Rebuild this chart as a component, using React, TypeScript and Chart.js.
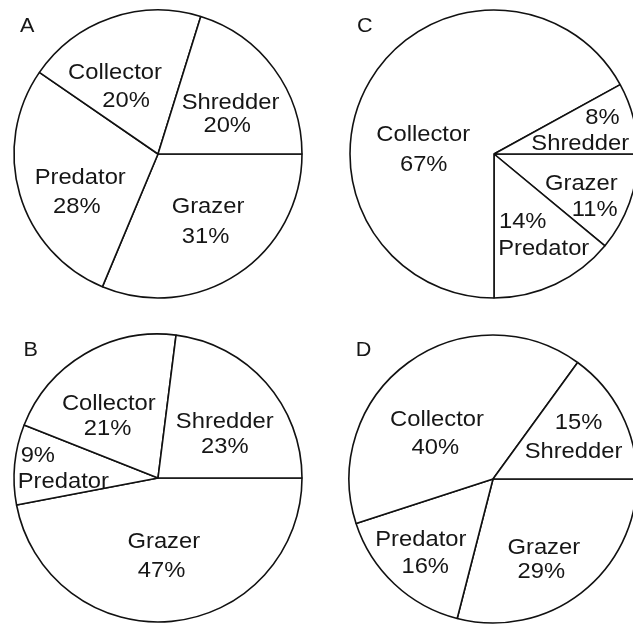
import React, { useEffect, useRef } from "react";
import { Chart, registerables } from "chart.js";

Chart.register(...registerables);

// ---- data ----
const categories = ["Grazer", "Predator", "Collector", "Shredder"];
const panelLetters = ["A", "B", "C", "D"];
const valuesA = [31, 28, 20, 20];
const valuesB = [47, 9, 21, 23];
const valuesC = [11, 14, 67, 8];
const valuesD = [29, 16, 40, 15];

// ---- layout / style (not data) ----
const CANVAS = 300;
const RADIUS = 144;
const FONT = '22px "Liberation Sans", Arial, sans-serif';
const LETTER_FONT = '20px "Liberation Sans", Arial, sans-serif';
const TEXT_SCALE_X = 1.08;
const TEXT_COLOR = "#161616";

// per label: [line1 x, line1 baseline, line2 x, line2 baseline, percentFirst] relative to pie centre
type LabelPos = [number, number, number, number, boolean];
const layoutA: LabelPos[] = [
  [50, 59.3, 47.5, 89.3, false],
  [-77.8, 30, -81.2, 58.7, false],
  [-43, -75, -32, -46.7, false],
  [72.5, -45, 69.2, -21.7, false],
];
const layoutB: LabelPos[] = [
  [5.8, 70.3, 3.5, 99.3, false],
  [-120.2, -16.3, -94.7, 10, true],
  [-49.2, -68, -50.5, -43.3, false],
  [66.7, -50, 66.8, -25, false],
];
const layoutC: LabelPos[] = [
  [87.3, 35.5, 100.7, 62.2, false],
  [28.7, 73.8, 49.7, 100.5, true],
  [-70.8, -12.8, -70.3, 17.2, false],
  [108.5, -30.5, 86.2, -4.5, true],
];
const layoutD: LabelPos[] = [
  [50.8, 75, 48.3, 99.3, false],
  [-72.2, 66.7, -67.8, 94.3, false],
  [-56, -53.3, -57.7, -25, false],
  [85.5, -50, 80.5, -20.7, true],
];

const panels = [
  { letter: panelLetters[0], values: valuesA, layout: layoutA, left: 8, top: 4, lx: 12, ly: 28 },
  { letter: panelLetters[2], values: valuesC, layout: layoutC, left: 344, top: 4, lx: 13, ly: 27.5 },
  { letter: panelLetters[1], values: valuesB, layout: layoutB, left: 8, top: 328, lx: 15.5, ly: 27.7 },
  { letter: panelLetters[3], values: valuesD, layout: layoutD, left: 343, top: 329, lx: 12.8, ly: 27.3 },
];

function drawText(ctx: CanvasRenderingContext2D, text: string, x: number, y: number, font: string, align: CanvasTextAlign) {
  ctx.save();
  ctx.font = font;
  ctx.fillStyle = TEXT_COLOR;
  ctx.textAlign = align;
  ctx.textBaseline = "alphabetic";
  ctx.translate(x, y);
  ctx.scale(TEXT_SCALE_X, 1);
  ctx.fillText(text, 0, 0);
  ctx.restore();
}

function PiePanel(props: { letter: string; values: number[]; layout: LabelPos[]; left: number; top: number; lx: number; ly: number }) {
  const ref = useRef<HTMLCanvasElement | null>(null);
  useEffect(() => {
    if (!ref.current) return;
    const { letter, layout, lx, ly } = props;
    const labelPlugin = {
      id: "sliceLabels",
      afterDatasetsDraw(chart: any) {
        const ctx = chart.ctx as CanvasRenderingContext2D;
        const meta = chart.getDatasetMeta(0);
        meta.data.forEach((arc: any, i: number) => {
          const { x, y } = arc.getProps(["x", "y"], true);
          const name = String(chart.data.labels[i]);
          const pct = `${chart.data.datasets[0].data[i]}%`;
          const [x1, b1, x2, b2, pctFirst] = layout[i];
          const first = pctFirst ? pct : name;
          const second = pctFirst ? name : pct;
          drawText(ctx, first, x + x1, y + b1, FONT, "center");
          drawText(ctx, second, x + x2, y + b2, FONT, "center");
        });
        drawText(ctx, letter, lx, ly, LETTER_FONT, "left");
      },
    };
    const chart = new Chart(ref.current, {
      type: "pie",
      data: {
        labels: categories,
        datasets: [
          {
            data: props.values,
            backgroundColor: "#ffffff",
            borderColor: "#111111",
            borderWidth: 1.6,
          },
        ],
      },
      options: {
        responsive: false,
        animation: false,
        events: [],
        rotation: 90,
        radius: RADIUS,
        layout: { padding: 0 },
        plugins: { legend: { display: false }, tooltip: { enabled: false } },
      },
      plugins: [labelPlugin],
    });
    return () => chart.destroy();
  }, []);
  return (
    <canvas
      ref={ref}
      width={CANVAS}
      height={CANVAS}
      style={{ position: "absolute", left: props.left, top: props.top, width: CANVAS, height: CANVAS }}
    />
  );
}

export default function App() {
  return (
    <div
      style={{
        position: "fixed",
        left: 0,
        top: 0,
        width: 633,
        height: 624,
        overflow: "hidden",
        background: "#ffffff",
      }}
    >
      {panels.map((p) => (
        <PiePanel key={p.letter} {...p} />
      ))}
    </div>
  );
}
